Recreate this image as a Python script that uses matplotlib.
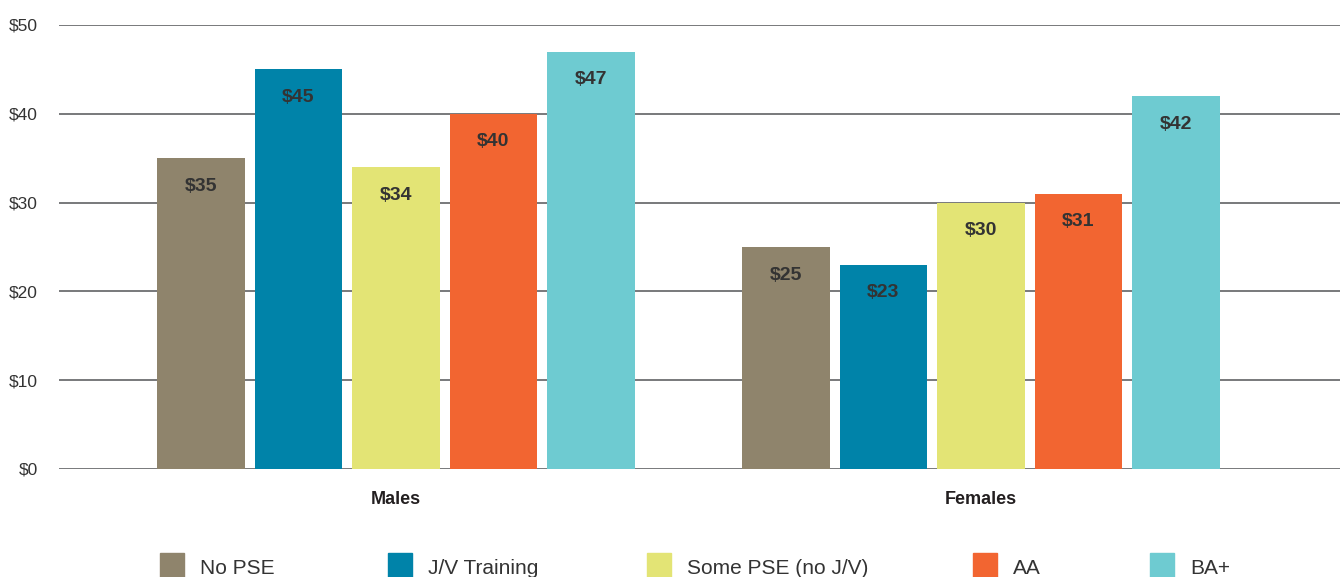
import matplotlib.pyplot as plt
from matplotlib.patches import Rectangle

groups = ["Males", "Females"]
series = ["No PSE", "J/V Training", "Some PSE (no J/V)", "AA", "BA+"]
colors = ["#8f846c", "#0083a9", "#e3e475", "#f26531", "#6ecbd1"]
males = [35, 45, 34, 40, 47]
females = [25, 23, 30, 31, 42]
values = [males, females]
yticks = [0, 10, 20, 30, 40, 50]

plt.rcParams["font.family"] = ["Liberation Sans", "DejaVu Sans"]

fig = plt.figure(figsize=(13.4, 5.77), dpi=100)
ax = fig.add_axes([59 / 1340, 1 - 469 / 577, 1 - 59 / 1340, 444 / 577])

for g, vals in enumerate(values):
    for i, v in enumerate(vals):
        x = g * 6 + i
        ax.bar(x, v, width=0.9, color=colors[i], zorder=3)
        ax.annotate(f"${v}", (x, v), xytext=(0, -28), textcoords="offset pixels",
                    ha="center", va="center", fontsize=14, fontweight="bold",
                    color="#333333", zorder=4)

ax.set_xlim(-1.456, -1.456 + 1281 / 97.5)
ax.set_ylim(0, 50)
ax.set_yticks(yticks)
ax.set_yticklabels([f"${t}" for t in yticks], fontsize=12.5, color="#333333")
ax.yaxis.grid(True, color="#6d6e71", linewidth=1.3, zorder=0)
ax.tick_params(axis="y", length=0, pad=15)
ax.set_xticks([2, 8])
ax.set_xticklabels(groups, fontsize=13, fontweight="bold", color="#231f20")
ax.tick_params(axis="x", length=0, pad=16)
for s in ax.spines.values():
    s.set_visible(False)
ax.set_axisbelow(True)

# legend along bottom edge
sq_x = [160, 388, 647, 973, 1150]
for i, name in enumerate(series):
    fig.add_artist(Rectangle((sq_x[i] / 1340, -0.01), 24 / 1340, (24 / 577) + 0.01,
                             transform=fig.transFigure, color=colors[i], clip_on=False))
    fig.text((sq_x[i] + 40) / 1340, 3 / 577, name, fontsize=15, color="#333333",
             va="baseline")

fig.savefig("out.png", dpi=100)
